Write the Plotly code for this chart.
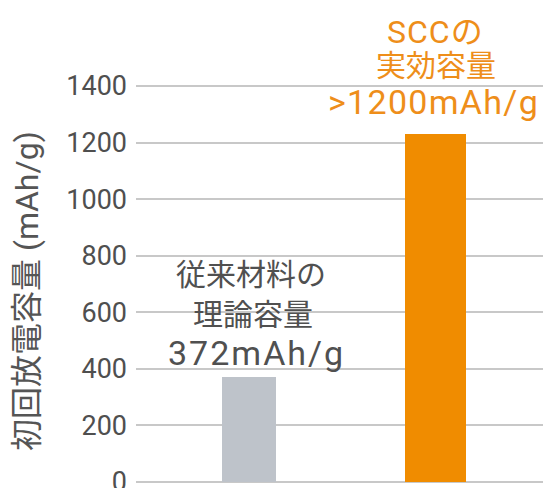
import plotly.graph_objects as go

# Data
categories = ["従来材料", "SCC"]
capacities = [372, 1230]
label_lines = [
    ["従来材料の", "理論容量", "372mAh/g"],
    ["SCCの", "実効容量", ">1200mAh/g"],
]
tick_values = [0, 200, 400, 600, 800, 1000, 1200, 1400]
y_title = "初回放電容量 (mAh/g)"

# Styles
bar_colors = ["#BEC3CA", "#F08C00"]
label_colors = ["#505050", "#EE8E1A"]
bar_widths = [0.29, 0.325]
line_sizes = [[30, 30, 34], [32, 30, 34]]
line_spacing = [[0, 0, 2], [1, 0, 1.3]]
# pixel offset of each label line centre above the bar top
line_offsets = [[102, 62, 24], [102, 69, 32]]
line_xshift = [[2, 4, 7], [0, 0, -2]]
font_stack = "Roboto, Noto Sans CJK JP"

W, H = 543, 488
ml = 136
pw = W - ml

fig = go.Figure()
fig.add_trace(go.Bar(
    x=categories,
    y=capacities,
    width=bar_widths,
    marker=dict(color=bar_colors, line=dict(width=0)),
    hoverinfo="skip",
))

for i, (cat, val) in enumerate(zip(categories, capacities)):
    for j, line in enumerate(label_lines[i]):
        sp = line_spacing[i][j]
        txt = f'<span style="letter-spacing:{sp}px">{line}</span>' if sp else line
        fig.add_annotation(
            x=cat, y=val, xref="x", yref="y",
            text=txt,
            showarrow=False,
            xanchor="center", yanchor="middle",
            xshift=line_xshift[i][j],
            yshift=line_offsets[i][j],
            font=dict(family=font_stack, size=line_sizes[i][j], color=label_colors[i]),
        )

fig.add_annotation(
    x=(27 - ml) / pw, y=(H - 291) / H, xref="paper", yref="paper",
    text=y_title, showarrow=False, textangle=-90,
    font=dict(family=font_stack, size=32, color="#555555"),
    xanchor="center", yanchor="middle",
)

px_per_unit = (482 - 86) / 1400
fig.update_layout(
    width=W, height=H,
    margin=dict(l=ml, r=0, t=0, b=0, autoexpand=False),
    paper_bgcolor="white", plot_bgcolor="white",
    showlegend=False,
    bargap=0,
    font=dict(family=font_stack),
)
fig.update_xaxes(
    range=[-0.606, 1.576], automargin=False,
    showticklabels=False, showgrid=False, zeroline=False, showline=False,
)
fig.update_yaxes(
    range=[-(H - 482) / px_per_unit, 1400 + 86 / px_per_unit],
    automargin=False,
    tickvals=tick_values,
    ticktext=[str(v) for v in tick_values],
    showgrid=True, gridcolor="#C8C8C8", gridwidth=2,
    zeroline=False, showline=False, ticks="",
    ticklabelstandoff=8,
    ticklabeloverflow="allow",
    tickfont=dict(family="Roboto", size=27, color="#4F4F4F"),
)

fig.write_html("out.html")
